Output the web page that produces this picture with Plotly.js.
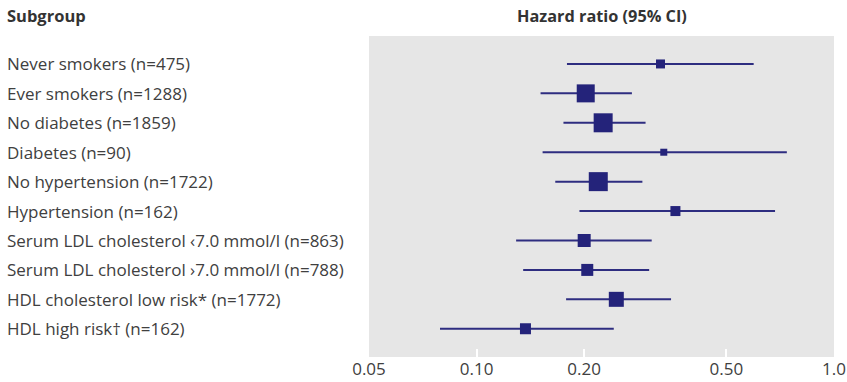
<!DOCTYPE html>
<html>
<head>
<meta charset="utf-8">
<script src="https://cdn.plot.ly/plotly-3.0.1.min.js"></script>
<style>html,body{margin:0;padding:0;background:#fff;}</style>
</head>
<body>
<div id="chart" style="width:847px;height:382px;"></div>
<script>
const subgroups = [
  "Never smokers (n=475)",
  "Ever smokers (n=1288)",
  "No diabetes (n=1859)",
  "Diabetes (n=90)",
  "No hypertension (n=1722)",
  "Hypertension (n=162)",
  "Serum LDL cholesterol \u20397.0 mmol/l (n=863)",
  "Serum LDL cholesterol \u203a7.0 mmol/l (n=788)",
  "HDL cholesterol low risk* (n=1772)",
  "HDL high risk\u2020 (n=162)"
];
const hazardRatio = [0.327, 0.202, 0.226, 0.334, 0.219, 0.360, 0.200, 0.204, 0.246, 0.137];
const ciLower     = [0.179, 0.151, 0.175, 0.153, 0.166, 0.194, 0.129, 0.135, 0.178, 0.079];
const ciUpper     = [0.596, 0.272, 0.297, 0.738, 0.291, 0.684, 0.309, 0.304, 0.350, 0.242];
const weightBox   = [9, 18, 19, 7, 19, 10, 13, 12, 15, 11];
const tickValues  = [0.05, 0.1, 0.2, 0.5, 1.0];
const tickLabels  = ["0.05", "0.10", "0.20", "0.50", "1.0"];

const idx = subgroups.map((_, i) => i);
const FONT = "Open Sans, Noto Sans, sans-serif";
const TXT = "#404040";

const trace = {
  type: "scatter",
  mode: "markers",
  x: hazardRatio,
  y: idx,
  marker: { symbol: "square", size: weightBox, color: "#24237a", opacity: 1, line: { width: 0 } },
  error_x: {
    type: "data",
    array: hazardRatio.map((v, i) => ciUpper[i] - v),
    arrayminus: hazardRatio.map((v, i) => v - ciLower[i]),
    width: 0,
    thickness: 2,
    color: "#2e2d80"
  },
  hoverinfo: "skip"
};

const annotations = subgroups.map((s, i) => ({
  xref: "paper", yref: "y",
  x: (5 - 369) / 465, y: i,
  xanchor: "left", yanchor: "middle",
  text: s, showarrow: false,
  font: { family: FONT, size: 17, color: TXT }
}));
annotations.push({
  xref: "paper", yref: "paper", x: (5 - 369) / 465, y: 1 + (36 - 16) / 321,
  xanchor: "left", yanchor: "middle", showarrow: false,
  text: "<b>Subgroup</b>", font: { family: FONT, size: 16.5, color: "#333333" }
});
annotations.push({
  xref: "paper", yref: "paper", x: (602 - 369) / 465, y: 1 + (36 - 16) / 321,
  xanchor: "center", yanchor: "middle", showarrow: false,
  text: "<b>Hazard ratio (95% CI)</b>", font: { family: FONT, size: 16.3, color: "#333333" }
});

const layout = {
  width: 847, height: 382,
  margin: { l: 369, r: 13, t: 36, b: 25, pad: 0 },
  paper_bgcolor: "#ffffff",
  plot_bgcolor: "#e6e6e6",
  showlegend: false,
  font: { family: FONT, color: TXT },
  xaxis: {
    type: "log",
    range: [Math.log10(0.05), 0],
    tickvals: tickValues,
    ticktext: tickLabels,
    ticks: "inside",
    ticklen: 8,
    tickwidth: 2,
    tickcolor: "#ffffff",
    ticklabelstandoff: 0,
    showgrid: false,
    zeroline: false,
    showline: false,
    tickfont: { family: FONT, size: 17, color: TXT }
  },
  yaxis: {
    range: [9.96, -0.95],
    showticklabels: false,
    showgrid: false,
    zeroline: false,
    ticks: ""
  },
  annotations: annotations
};

Plotly.newPlot("chart", [trace], layout, { displayModeBar: false, staticPlot: true });
</script>
</body>
</html>
